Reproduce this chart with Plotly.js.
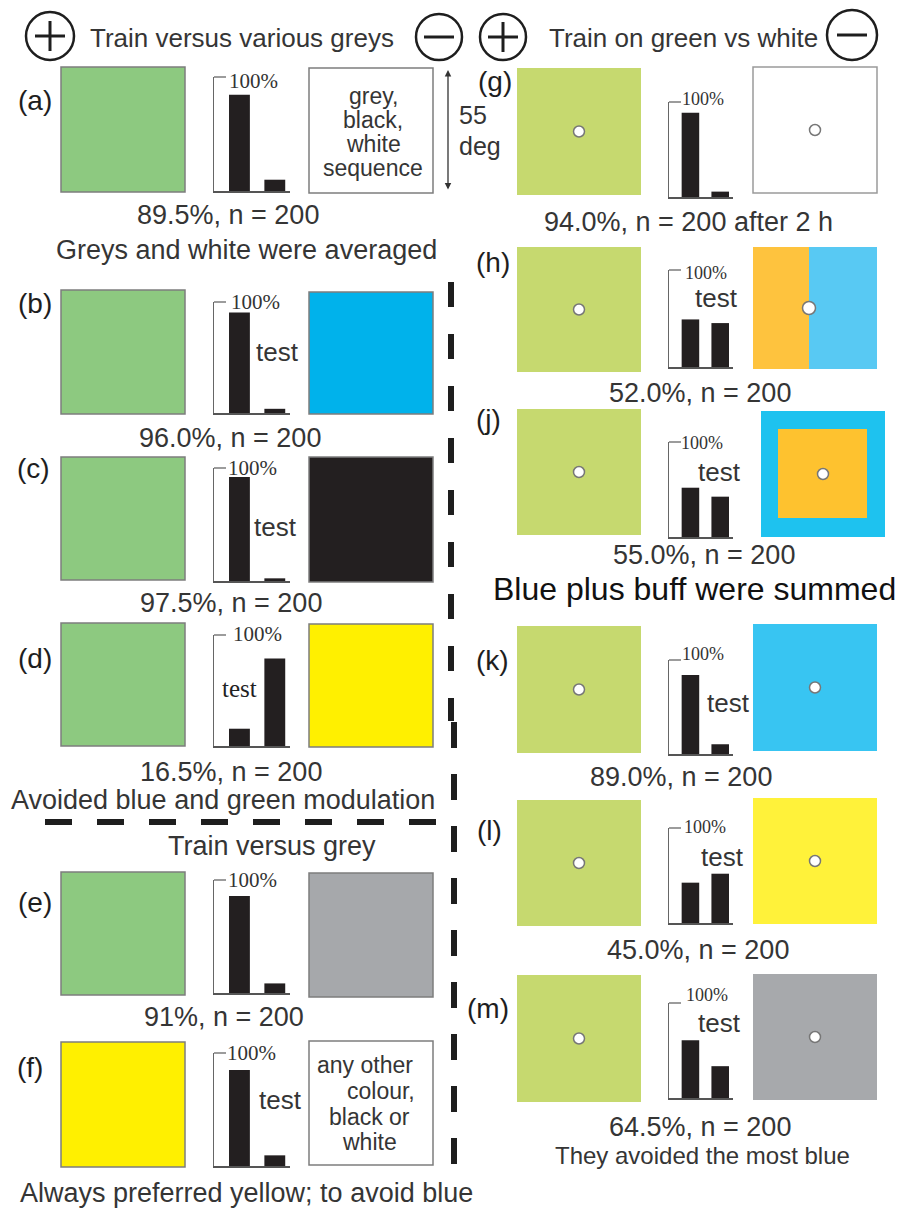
<!DOCTYPE html>
<html><head><meta charset="utf-8">
<script src="https://cdn.plot.ly/plotly-3.0.1.min.js"></script>
<style>html,body{margin:0;padding:0;background:#fff}#chart{width:903px;height:1209px}</style>
</head><body><div id="chart"></div>
<script>
// ---------------- data ----------------
const panelLabels = ['(a)','(b)','(c)','(d)','(e)','(f)','(g)','(h)','(j)','(k)','(l)','(m)'];
const barCategories = [0, 1]; // 0 = trained (+) stimulus, 1 = test (−) stimulus
const trainedChoicePct = [89.5, 96.0, 97.5, 16.5, 91.0, 90.0, 94.0, 52.0, 55.0, 89.0, 45.0, 64.5];
const testChoicePct    = [10.5,  4.0,  2.5, 83.5,  9.0, 10.0,  6.0, 48.0, 45.0, 11.0, 55.0, 35.5];
const resultLabels = ['89.5%, n = 200','96.0%, n = 200','97.5%, n = 200','16.5%, n = 200','91%, n = 200','',
                      '94.0%, n = 200 after 2 h','52.0%, n = 200','55.0%, n = 200','89.0%, n = 200','45.0%, n = 200','64.5%, n = 200'];
const hasTestLabel = [false,true,true,true,false,true,false,true,true,true,true,true];
const scaleTopLabel = '100%';
const testLabel = 'test';
const headerLeft = 'Train versus various greys';
const headerRight = 'Train on green vs white';
const noteTexts = ['Greys and white were averaged','Avoided blue and green modulation','Train versus grey',
                   'Always preferred yellow; to avoid blue','Blue plus buff were summed','They avoided the most blue'];
const boxTextA = ['grey,','black,','white','sequence'];
const boxTextF = ['any other','colour,','black or','white'];
const sizeLabel = ['55','deg'];

// ---------------- geometry / style ----------------
const W = 903, H = 1209;
const px = x => x / W, py = y => 1 - y / H;
const TXT = '#353535', SANS = 'Liberation Sans, Arial, sans-serif', SERIF = 'Liberation Serif, Times New Roman, serif';
const COLS = {
  L: {train:[61,185], test:[309,433], bars:[214,290], pctSize:21},
  R: {train:[517,641], test:[753,877], bars:[669,733], pctSize:18}
};
const GEO = [
  {c:'L', sq:[67,192],  tsq:[68,193],  bar:[77,191],   lab:[35,100],  res:[228,215],  pct:[253,81],   tst:null},
  {c:'L', sq:[290,414], tsq:[292,414], bar:[302,413],  lab:[35,303],  res:[230,438],  pct:[255,302],  tst:[277,352]},
  {c:'L', sq:[457,580], tsq:[457,582], bar:[468,581],  lab:[33,468],  res:[231,603],  pct:[252,468],  tst:[275,527]},
  {c:'L', sq:[623,746], tsq:[624,747], bar:[635,746],  lab:[35,658],  res:[231,772],  pct:[257,634],  tst:[239,688], serif:true},
  {c:'L', sq:[872,995], tsq:[873,997], bar:[880,993],  lab:[35,902],  res:[224,1017], pct:[252,880],  tst:null},
  {c:'L', sq:[1042,1167],tsq:[1041,1165],bar:[1053,1166],lab:[30,1067],res:null,     pct:[251,1053], tst:[280,1100]},
  {c:'R', sq:[68,195],  tsq:[67,193],  bar:[102,197],  lab:[495,82],  res:[688,222],  pct:[703,99],   tst:null},
  {c:'R', sq:[247,372], tsq:[247,369], bar:[270,367],  lab:[493,262], res:[700,393],  pct:[706,273],  tst:[716,298]},
  {c:'R', sq:[409,535], tsq:[411,537], bar:[442,537],  lab:[488,420], res:[704,555],  pct:[702,443],  tst:[719,472]},
  {c:'R', sq:[626,753], tsq:[624,751], bar:[660,754],  lab:[492,660], res:[681,777],  pct:[703,654],  tst:[728,703]},
  {c:'R', sq:[800,926], tsq:[798,924], bar:[828,923],  lab:[490,830], res:[698,950],  pct:[705,827],  tst:[722,857]},
  {c:'R', sq:[975,1102],tsq:[974,1100],bar:[1003,1098],lab:[488,1008],res:[700,1127], pct:[707,995],  tst:[719,1023]}
];
const LGREEN = '#8dc980', RGREEN = '#c6d96f', OUT = '#7d7d7d';
const trainFill = [LGREEN,LGREEN,LGREEN,LGREEN,LGREEN,'#fff000',RGREEN,RGREEN,RGREEN,RGREEN,RGREEN,RGREEN];
const testFill  = ['#ffffff','#00b2eb','#231f20','#fff000','#a6a8ab','#ffffff','#ffffff',null,null,'#38c5f2','#fff23a','#a7a9ac'];

const shapes = [], annotations = [], traces = [];
const layout = {
  width: W, height: H, margin:{l:0,r:0,t:0,b:0}, paper_bgcolor:'#fff', plot_bgcolor:'rgba(0,0,0,0)',
  showlegend:false, shapes, annotations
};
function rect(x0,x1,y0,y1,fill,line,lw){
  shapes.push({type:'rect',xref:'paper',yref:'paper',x0:px(x0),x1:px(x1),y0:py(y1),y1:py(y0),
    fillcolor:fill,line:{color:line||'rgba(0,0,0,0)',width:line?(lw||1.5):0},layer:'below'});
}
function circ(cx,cy,r,fill,line,lw){
  shapes.push({type:'circle',xref:'paper',yref:'paper',x0:px(cx-r),x1:px(cx+r),y0:py(cy+r),y1:py(cy-r),
    fillcolor:fill,line:{color:line,width:lw}});
}
function seg(x0,y0,x1,y1,color,w,dash){
  shapes.push({type:'line',xref:'paper',yref:'paper',x0:px(x0),x1:px(x1),y0:py(y0),y1:py(y1),
    line:{color:color,width:w,dash:dash||'solid'}});
}
function text(t,x,y,size,opts){
  opts = opts||{};
  annotations.push({text:t,xref:'paper',yref:'paper',x:px(x),y:py(y),showarrow:false,
    xanchor:opts.xa||'center',yanchor:'middle',borderpad:0,
    font:{family:opts.family||SANS,size:size,color:opts.color||TXT}});
}

// header icons
function icon(cx,cy,r,plus){
  circ(cx,cy,r,'rgba(0,0,0,0)','#1e1e1e',2.5);
  seg(cx-15,cy,cx+15,cy,'#1e1e1e',3);
  if(plus) seg(cx,cy-15,cx,cy+15,'#1e1e1e',3);
}
icon(50,36,24,true); icon(439,37,23,false); icon(503,37,23,true); icon(852,35,25,false);
text(headerLeft,242,38,26);
text(headerRight,683,38,26);

// panels
GEO.forEach((g,i)=>{
  const col = COLS[g.c];
  const sfx = i===0 ? '' : String(i+1);
  rect(col.train[0],col.train[1],g.sq[0],g.sq[1],trainFill[i], g.c==='L'?OUT:null);
  const [tx0,tx1] = col.test, [ty0,ty1] = g.tsq;
  if(i===7){
    rect(tx0,809,ty0,ty1,'#fec33e',null); rect(809,tx1,ty0,ty1,'#58c9f3',null);
  } else if(i===8){
    rect(tx0+8,tx1+8,ty0,ty1,'#1ec2ef',null); rect(tx0+25,tx1-10,ty0+18,ty1-19,'#fec22f',null);
  } else {
    const outline = (g.c==='L' || i===6) ? (i===6?'#9a9a9a':OUT) : null;
    rect(tx0,tx1,ty0,ty1,testFill[i],outline);
  }
  if(g.c==='R'){
    circ((col.train[0]+col.train[1])/2,(g.sq[0]+g.sq[1])/2,5.5,'#fff','#777',1.5);
    let dx = (tx0+tx1)/2, dy = (ty0+ty1)/2, r = 5.5;
    if(i===7){ dx = 809; r = 6.5; }
    if(i===8){ dx = (tx0+tx1)/2+8; }
    circ(dx,dy,r,'#fff','#777',1.5);
  }
  layout['xaxis'+sfx] = {domain:[px(col.bars[0]),px(col.bars[1])], range:[-0.72,1.43], anchor:'y'+sfx,
    showgrid:false, zeroline:false, showticklabels:false, ticks:'', showline:true, linecolor:'#555', linewidth:1.5, fixedrange:true};
  layout['yaxis'+sfx] = {domain:[py(g.bar[1]),py(g.bar[0])], range:[0,106], anchor:'x'+sfx,
    showgrid:false, zeroline:false, showticklabels:false, ticks:'', showline:true, linecolor:'#666', linewidth:1.3, fixedrange:true};
  traces.push({type:'bar', x:barCategories, y:[trainedChoicePct[i], testChoicePct[i]], width:0.59,
    xaxis:'x'+sfx, yaxis:'y'+sfx, marker:{color:'#231f20', line:{width:0}}, hoverinfo:'skip'});
  seg(col.bars[0],g.bar[0],col.bars[0]+12,g.bar[0],'#666',1.3);
  text(scaleTopLabel, g.pct[0], g.pct[1], col.pctSize, {family:SERIF, color:'#333'});
  if(hasTestLabel[i]) text(testLabel, g.tst[0], g.tst[1], g.serif?25:26, g.serif?{family:SERIF,color:'#222'}:{});
  text(panelLabels[i], g.lab[0], g.lab[1], 28, {color:'#1e1e1e'});
  if(g.res && resultLabels[i]) text(resultLabels[i], g.res[0], g.res[1], 27);
});

// box texts
[[373,96],[373,120],[373,144],[373,168]].forEach((p,k)=>text(boxTextA[k],p[0],p[1],23));
[[365,1065],[381,1091],[369,1117],[369,1142]].forEach((p,k)=>text(boxTextF[k],p[0],p[1],23));
// 55 deg arrow
annotations.push({xref:'paper',yref:'paper',x:px(448),y:py(70),ax:0,ay:121,axref:'pixel',ayref:'pixel',
  showarrow:true,arrowhead:2,startarrowhead:2,arrowside:'end+start',arrowsize:1,arrowwidth:1.3,arrowcolor:'#333',text:''});
text(sizeLabel[0],458,115,25,{xa:'left'});
text(sizeLabel[1],458,146,25,{xa:'left'});

// notes
text(noteTexts[0],246,250,27);
text(noteTexts[1],223,800,27);
text(noteTexts[2],272,846,27);
text(noteTexts[3],246,1193,27);
text(noteTexts[4],694,589,32,{color:'#111'});
text(noteTexts[5],702,1155,24);

// dashed separators
seg(451,282,451,721,'#1e1e1e',6,'25px,27px');
seg(454,722,454,1164,'#1e1e1e',6,'26px,26px');
seg(45,822,436,822,'#1e1e1e',6,'27px,25px');

Plotly.newPlot('chart', traces, layout, {displayModeBar:false, staticPlot:true});
</script></body></html>
